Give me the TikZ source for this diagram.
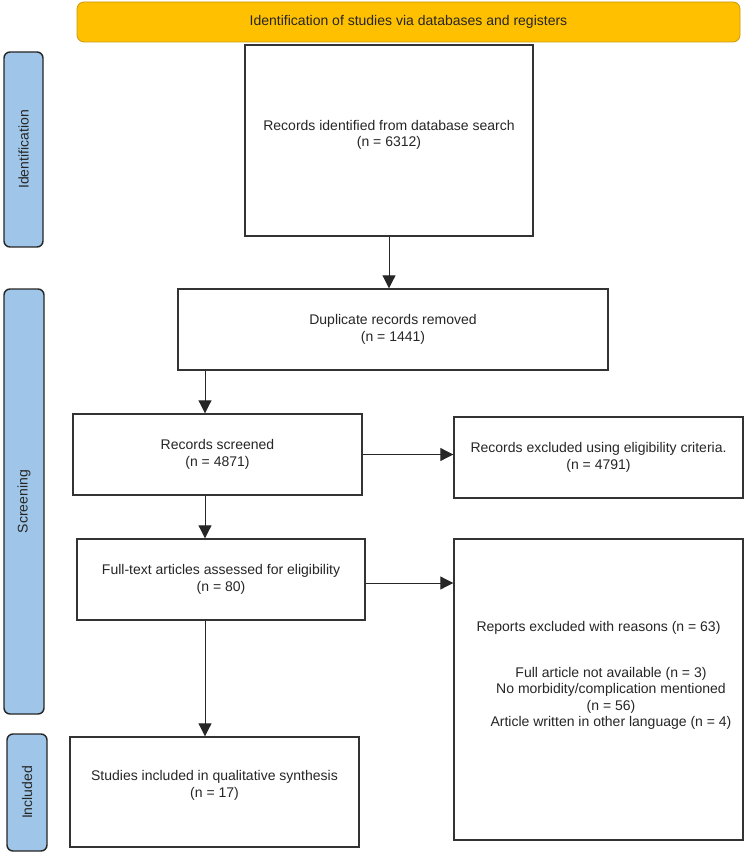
\documentclass[tikz,border=0pt]{standalone}
\usepackage{fontspec}
\setmainfont{Liberation Sans}
\usetikzlibrary{arrows.meta,calc}
\definecolor{bannerfill}{HTML}{FFC000}
\definecolor{bannerdraw}{HTML}{C89A10}
\definecolor{barfill}{HTML}{9FC5E8}
\definecolor{boxdraw}{HTML}{333333}
\begin{document}
\begin{tikzpicture}[x=1pt,y=-1pt,
  every node/.style={font=\fontsize{14}{16.5}\selectfont, text=black!85},
  flowbox/.style={draw=boxdraw, line width=1.4pt, fill=white, align=center, inner sep=0pt},
  phasebar/.style={draw=black!85, line width=1.4pt, fill=barfill, rounded corners=6pt, inner sep=0pt},
  bannerbox/.style={draw=bannerdraw, line width=0.8pt, fill=bannerfill, rounded corners=7pt, inner sep=0pt},
  flowarrow/.style={draw=black!85, line width=1pt, -{Triangle[length=13pt,width=13pt]}}]
\useasboundingbox (0,0) rectangle (750,858);
% banner
\node[bannerbox, minimum width=663pt, minimum height=40pt] (banner) at (408.5,22) {Identification of studies via databases and registers};
% phase bars
\node[phasebar, minimum width=39pt, minimum height=195pt] (barid) at (23.5,149.5) {};
\node[rotate=90] (barid-t) at (barid.center) {Identification};
\node[phasebar, minimum width=40pt, minimum height=425pt] (barsc) at (24,501.5) {};
\node[rotate=90] (barsc-t) at (barsc.center) {Screening};
\node[phasebar, minimum width=40pt, minimum height=117pt] (barin) at (27,792.5) {};
\node[rotate=90] (barin-t) at (barin.center) {Included};
% boxes
\node[flowbox, minimum width=288pt, minimum height=191pt, text depth=14pt] (b1) at (389,140.5) {Records identified from database search\\(n = 6312)};
\node[flowbox, minimum width=430pt, minimum height=81pt] (b2) at (393,329.5) {Duplicate records removed\\(n = 1441)};
\node[flowbox, minimum width=289pt, minimum height=81pt] (b3) at (217.5,454.5) {Records screened\\(n = 4871)};
\node[flowbox, minimum width=289pt, minimum height=81pt] (b4) at (598.5,457.5) {Records excluded using eligibility criteria.\\(n = 4791)};
\node[flowbox, minimum width=288pt, minimum height=81pt] (b5) at (221,579.5) {Full-text articles assessed for eligibility\\(n = 80)};
\node[flowbox, minimum width=289pt, minimum height=301pt] (b6) at (598.5,689.5) {};
\node (b6-t1) at (598.5,628) {Reports excluded with reasons (n = 63)};
\node[align=center] (b6-t2) at (611,698.5) {Full article not available (n = 3)\\No morbidity/complication mentioned\\(n = 56)\\Article written in other language (n = 4)};
\node[flowbox, minimum width=289pt, minimum height=110pt, text depth=16pt] (b7) at (214.5,792) {Studies included in qualitative synthesis\\(n = 17)};
% connectors
\coordinate (lane) at (205,0);
\draw[flowarrow] (b1.south) -- (b1.south |- b2.north);
\draw[flowarrow] (b2.south -| lane) -- (b3.north -| lane);
\draw[flowarrow] (b3.east) -- (b4.west |- b3.east);
\draw[flowarrow] (b3.south -| lane) -- (b5.north -| lane);
\draw[flowarrow] ($(b5.east)+(0,3.5)$) -- ($(b6.west |- b5.east)+(0,3.5)$);
\draw[flowarrow] (b5.south -| lane) -- (b7.north -| lane);
\end{tikzpicture}
\end{document}
